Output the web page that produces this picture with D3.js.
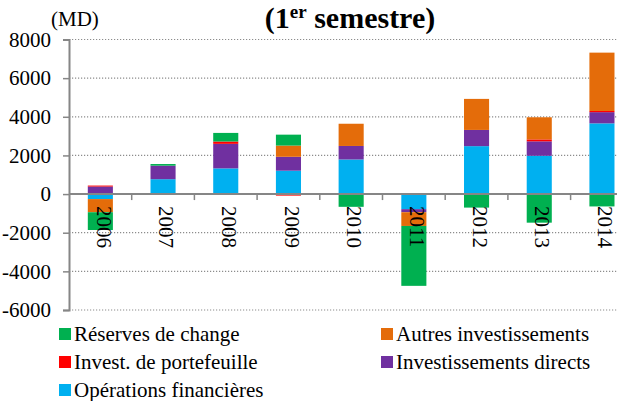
<!DOCTYPE html>
<html>
<head>
<meta charset="utf-8">
<script src="https://cdn.jsdelivr.net/npm/d3@7"></script>
<style>
  body { margin: 0; background: #fff; }
  svg { display: block; }
  svg text { font-family: "Liberation Serif", "Times New Roman", serif; fill: #000; }
</style>
</head>
<body>
<svg id="chart" width="617" height="401"></svg>
<script>
// Chart data (MD), stacked bottom-up in this order
const years        = ["2006", "2007", "2008", "2009", "2010", "2011", "2012", "2013", "2014"];
const operations   = [-260,  770, 1330, 1210, 1790,  -780, 2480, 1980, 3660];
const directs      = [ 390,  700, 1270,  720,  700,  -160,  840,  750,  580];
const portefeuille = [  50,    0,  120,  -80,    0,     0,    0,  100,   60];
const autres       = [-680,    0,    0,  580, 1150,  -710, 1606, 1145, 3020];
const reserves     = [-920,   85,  445,  565, -660, -3100, -700, -1480, -640];
const yTicks       = [-6000, -4000, -2000, 0, 2000, 4000, 6000, 8000];

const series = [
  {key: "operations",   name: "Opérations financières",   color: "#00B0F0", values: operations},
  {key: "directs",      name: "Investissements directs",  color: "#7030A0", values: directs},
  {key: "portefeuille", name: "Invest. de portefeuille",  color: "#FF0000", values: portefeuille},
  {key: "autres",       name: "Autres investissements",   color: "#E46C0A", values: autres},
  {key: "reserves",     name: "Réserves de change",       color: "#00B050", values: reserves}
];

// rows for d3.stack
let rows = years.map((y, i) => {
  let r = {year: y};
  series.forEach((s) => { r[s.key] = s.values[i]; });
  return r;
});

let svg = d3.select("#chart");
let x0 = 69, step = 62.7;

let x = d3.scaleBand().domain(years).range([x0, x0 + step * years.length]).padding(0);
let y = d3.scaleLinear().domain([-6000, 8000]).range([310, 39.5]);
let barW = x.bandwidth() * 0.4;

// Title (first line is cut off in the original)
let title = svg.append("text")
  .attr("x", 350).attr("y", 28)
  .attr("text-anchor", "middle")
  .attr("font-size", 30).attr("font-weight", "bold");
title.append("tspan").text("(1");
title.append("tspan").attr("font-size", 19).attr("dy", -10).text("er");
title.append("tspan").attr("dy", 10).text(" semestre)");

svg.append("text")
  .attr("x", 51).attr("y", 26)
  .attr("font-size", 21)
  .text("(MD)");

// Grid lines
svg.append("g").selectAll("line")
  .data(yTicks.filter((d) => d !== 0)).enter()
  .append("line")
  .attr("x1", x0).attr("x2", 617)
  .attr("y1", (d) => y(d)).attr("y2", (d) => y(d))
  .attr("stroke", "#8c8c8c")
  .attr("stroke-width", 1.2)
  .attr("stroke-dasharray", "1.2,1.8");

// Stacked bars
let stack = d3.stack()
  .keys(series.map((s) => s.key))
  .offset(d3.stackOffsetDiverging);

let layers = stack(rows);

svg.append("g").selectAll("g")
  .data(layers).enter()
  .append("g")
  .attr("fill", (d, i) => series[i].color)
  .selectAll("rect")
  .data((d) => d).enter()
  .append("rect")
  .attr("x", (d) => x(d.data.year) + (x.bandwidth() - barW) / 2)
  .attr("width", barW)
  .attr("y", (d) => y(Math.max(d[0], d[1])))
  .attr("height", (d) => Math.abs(y(d[0]) - y(d[1])));

// Axes (plain hyphen for negatives, as in the original)
let yAxis = d3.axisLeft(y).tickValues(yTicks).tickSize(6).tickFormat((d) => String(d));
let gy = svg.append("g").attr("transform", `translate(${x0},0)`).call(yAxis);
gy.select(".domain").attr("stroke", "#868686").attr("stroke-width", 2);
gy.selectAll(".tick line").attr("stroke", "#868686").attr("stroke-width", 1.5);
gy.selectAll(".tick text")
  .attr("x", -18)
  .attr("font-size", 21);

let xAxis = svg.append("g");
xAxis.append("line")
  .attr("x1", x0).attr("x2", 617)
  .attr("y1", y(0)).attr("y2", y(0))
  .attr("stroke", "#868686").attr("stroke-width", 2);

xAxis.selectAll("line.tick")
  .data(years.slice(1)).enter()
  .append("line")
  .attr("class", "tick")
  .attr("x1", (d) => x(d)).attr("x2", (d) => x(d))
  .attr("y1", y(0)).attr("y2", y(0) + 6)
  .attr("stroke", "#868686").attr("stroke-width", 1.5);

xAxis.selectAll("text")
  .data(years).enter()
  .append("text")
  .attr("transform", (d) => `translate(${x(d) + x.bandwidth() / 2 + 1},${y(0) + 12}) rotate(90)`)
  .attr("dominant-baseline", "middle")
  .attr("font-size", 21)
  .text((d) => d);

// Legend (reverse order, two columns)
let legendItems = series.slice().reverse();
let legend = svg.append("g").selectAll("g")
  .data(legendItems).enter()
  .append("g")
  .attr("transform", (d, i) => `translate(${i % 2 === 0 ? 59 : 381},${341 + Math.floor(i / 2) * 28})`);

legend.append("rect")
  .attr("x", 0).attr("y", -13)
  .attr("width", 12).attr("height", 12)
  .attr("fill", (d) => d.color);

legend.append("text")
  .attr("x", 15).attr("y", 0)
  .attr("font-size", 21)
  .text((d) => d.name);
</script>
</body>
</html>
